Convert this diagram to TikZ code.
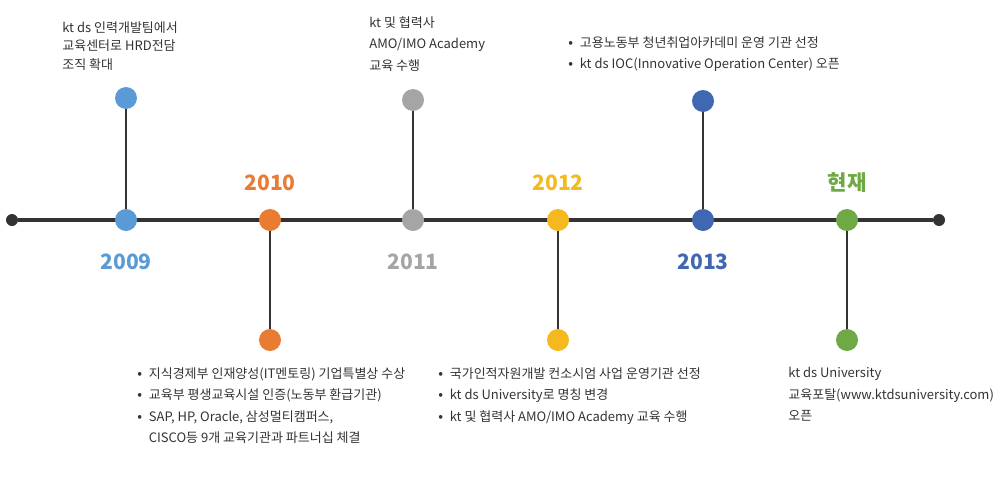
\documentclass[tikz,border=0pt]{standalone}
\usepackage{fontspec}
\setmainfont{Noto Sans CJK KR}
\definecolor{cBlue}{HTML}{5B9BD5}
\definecolor{cOrange}{HTML}{E97B33}
\definecolor{cGray}{HTML}{A5A5A5}
\definecolor{cYellow}{HTML}{F4B91E}
\definecolor{cNavy}{HTML}{3F67B2}
\definecolor{cGreen}{HTML}{6FA946}
\definecolor{cLine}{HTML}{333333}
\definecolor{cText}{HTML}{333333}
\newcommand\bitem{\makebox[2.3mm][l]{\footnotesize\textbullet}}
\newcommand\bskip{\hspace*{2.3mm}}
\tikzset{
  dot/.style={circle, inner sep=0pt, minimum size=4.4mm},
  enddot/.style={circle, inner sep=0pt, minimum size=2.4mm, fill=cLine},
  axis/.style={draw=cLine, line width=1.8pt},
  stem/.style={draw=cLine, line width=1.1pt},
  year/.style={font=\fontsize{12}{14}\selectfont\bfseries},
  note/.style={anchor=north west, inner sep=0pt, align=left, text=cText,
    font=\fontsize{7.4}{12.3}\selectfont}
}

\begin{document}
\begin{tikzpicture}[x=0.2mm, y=-0.2mm]
\useasboundingbox (0,0) rectangle (1000,481);
% --- Axis ---
\node[enddot] (start) at (12,220) {};
\node[enddot] (end) at (939,220) {};
\draw[axis] (start) -- (end);
% --- 2009 (up) ---
\node[dot, fill=cBlue] (m2009) at (126,220) {};
\node[dot, fill=cBlue] (t2009) at (126,98) {};
\draw[stem] (t2009) -- (m2009);
\node[year, text=cBlue] (y2009) at (126,262) {2009};
\node[note, font=\fontsize{7.4}{10.6}\selectfont] (n2009) at (62,21) {kt ds 인력개발팀에서\\교육센터로 HRD전담\\조직 확대};
% --- 2010 (down) ---
\node[dot, fill=cOrange] (m2010) at (270,220) {};
\node[dot, fill=cOrange] (b2010) at (270,340) {};
\draw[stem] (m2010) -- (b2010);
\node[year, text=cOrange] (y2010) at (270,183) {2010};
\node[note] (n2010) at (137,367) {\bitem 지식경제부 인재양성(IT멘토링) 기업특별상 수상\\
  \bitem 교육부 평생교육시설 인증(노동부 환급기관)\\
  \bitem SAP, HP, Oracle, 삼성멀티캠퍼스,\\
  \bskip CISCO등 9개 교육기관과 파트너십 체결};
% --- 2011 (up) ---
\node[dot, fill=cGray] (m2011) at (413,220) {};
\node[dot, fill=cGray] (t2011) at (413,100) {};
\draw[stem] (t2011) -- (m2011);
\node[year, text=cGray] (y2011) at (413,262) {2011};
\node[note] (n2011) at (369,16) {kt 및 협력사\\AMO/IMO Academy\\교육 수행};
% --- 2012 (down) ---
\node[dot, fill=cYellow] (m2012) at (558,220) {};
\node[dot, fill=cYellow] (b2012) at (558,340) {};
\draw[stem] (m2012) -- (b2012);
\node[year, text=cYellow] (y2012) at (558,183) {2012};
\node[note] (n2012) at (438,367) {\bitem 국가인적자원개발 컨소시엄 사업 운영기관 선정\\
  \bitem kt ds University로 명칭 변경\\
  \bitem kt 및 협력사 AMO/IMO Academy 교육 수행};
% --- 2013 (up) ---
\node[dot, fill=cNavy] (m2013) at (703,220) {};
\node[dot, fill=cNavy] (t2013) at (703,101) {};
\draw[stem] (t2013) -- (m2013);
\node[year, text=cNavy] (y2013) at (703,262) {2013};
\node[note] (n2013) at (568,36) {\bitem 고용노동부 청년취업아카데미 운영 기관 선정\\
  \bitem kt ds IOC(Innovative Operation Center) 오픈};
% --- Now (down) ---
\node[dot, fill=cGreen] (mNow) at (847,220) {};
\node[dot, fill=cGreen] (bNow) at (847,340) {};
\draw[stem] (mNow) -- (bNow);
\node[year, text=cGreen] (yNow) at (847,183) {현재};
\node[note] (nNow) at (788,367) {kt ds University\\교육포탈(www.ktdsuniversity.com)\\오픈};
\end{tikzpicture}
\end{document}
